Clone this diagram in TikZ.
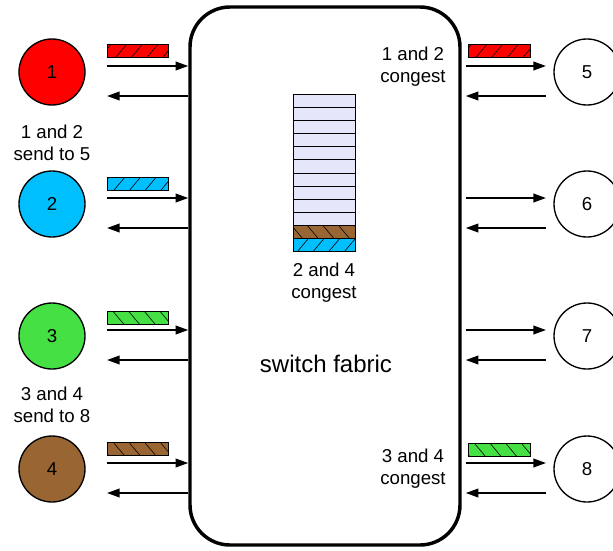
\documentclass[tikz,border=0pt]{standalone}
\usepackage{fontspec}
\setmainfont{Liberation Sans}
\usetikzlibrary{arrows.meta,patterns.meta}
\definecolor{pred}{RGB}{255,0,0}
\definecolor{pblue}{RGB}{0,191,255}
\definecolor{pgreen}{RGB}{68,224,68}
\definecolor{pbrown}{RGB}{153,102,51}
\definecolor{qcell}{RGB}{230,230,250}
\tikzset{
  host/.style={circle,draw,line width=1pt,minimum size=49.5pt,inner sep=0pt,font=\fontsize{14}{16.5}\selectfont},
  lbl/.style={align=center,inner sep=0pt,font=\fontsize{14}{16.5}\selectfont},
  arr/.style={line width=1.3pt,-{Triangle[length=9.5pt,width=6.5pt]}},
  pkt/.style={draw,line width=0.6pt},
  fw/.style={postaction={pattern={Lines[angle=50,distance=9pt,line width=0.45pt]}}},
  bw/.style={postaction={pattern={Lines[angle=-50,distance=9pt,line width=0.45pt]}}},
  cell/.style={draw,line width=0.5pt,fill=qcell}
}
\begin{document}
\begin{tikzpicture}[x=0.75pt,y=-0.75pt]
\useasboundingbox (0,0) rectangle (613,550);
% switch fabric
\node[draw,line width=2.6pt,rounded corners=30pt,minimum width=202.5pt,minimum height=403.5pt,inner sep=0pt] (fab) at (325,276) {};
\node[lbl,font=\fontsize{18}{21}\selectfont] (sf) at (326,364) {switch fabric};
% hosts
\node[host,fill=pred] (c1) at (52,72) {1};
\node[host,fill=pblue] (c2) at (52,204) {2};
\node[host,fill=pgreen] (c3) at (52,336) {3};
\node[host,fill=pbrown] (c4) at (52,469) {4};
\node[host] (c5) at (587,72) {5};
\node[host] (c6) at (587,204) {6};
\node[host] (c7) at (587,336) {7};
\node[host] (c8) at (587,469) {8};
% labels
\node[lbl] (l12) at (52,143) {1 and 2\\send to 5};
\node[lbl] (l34) at (52,405) {3 and 4\\send to 8};
\node[lbl] (r12) at (413,67) {1 and 2\\congest};
\node[lbl] (r34) at (413,469) {3 and 4\\congest};
\node[lbl] (q24) at (324,283) {2 and 4\\congest};
% arrows
\foreach \i/\y in {1/72,2/204,3/336,4/469}{
  \coordinate (lf\i) at (107,\y-6);
  \coordinate (lb\i) at (107,\y+24);
  \draw[arr] (lf\i) -- (lf\i -| fab.west);
  \draw[arr] (lb\i -| fab.west) -- (lb\i);
}
\foreach \i/\y in {5/72,6/204,7/336,8/469}{
  \coordinate (rf\i) at (546,\y-6);
  \coordinate (rb\i) at (546,\y+24);
  \draw[arr] (rf\i -| fab.east) ++(4,0) -- (rf\i);
  \draw[arr] (rb\i) -- ([xshift=3pt]rb\i -| fab.east);
}
% packets
\draw[pkt,fill=pred,fw] (107,44) rectangle (168,57);
\draw[pkt,fill=pblue,fw] (107,177) rectangle (168,190);
\draw[pkt,fill=pgreen,bw] (107,311) rectangle (168,324);
\draw[pkt,fill=pbrown,bw] (107,442) rectangle (168,455);
\draw[pkt,fill=pred,fw] (468,44) rectangle (530,57);
\draw[pkt,fill=pgreen,bw] (468,443) rectangle (530,456);
% queue
\foreach \k in {0,...,9}{
  \draw[cell] (293,94+\k*13.15) rectangle (355,94+\k*13.15+13.15);
}
\draw[pkt,fill=pbrown,bw] (293,225.5) rectangle (355,238.7);
\draw[pkt,fill=pblue,fw] (293,238.7) rectangle (355,251.8);
\end{tikzpicture}
\end{document}
